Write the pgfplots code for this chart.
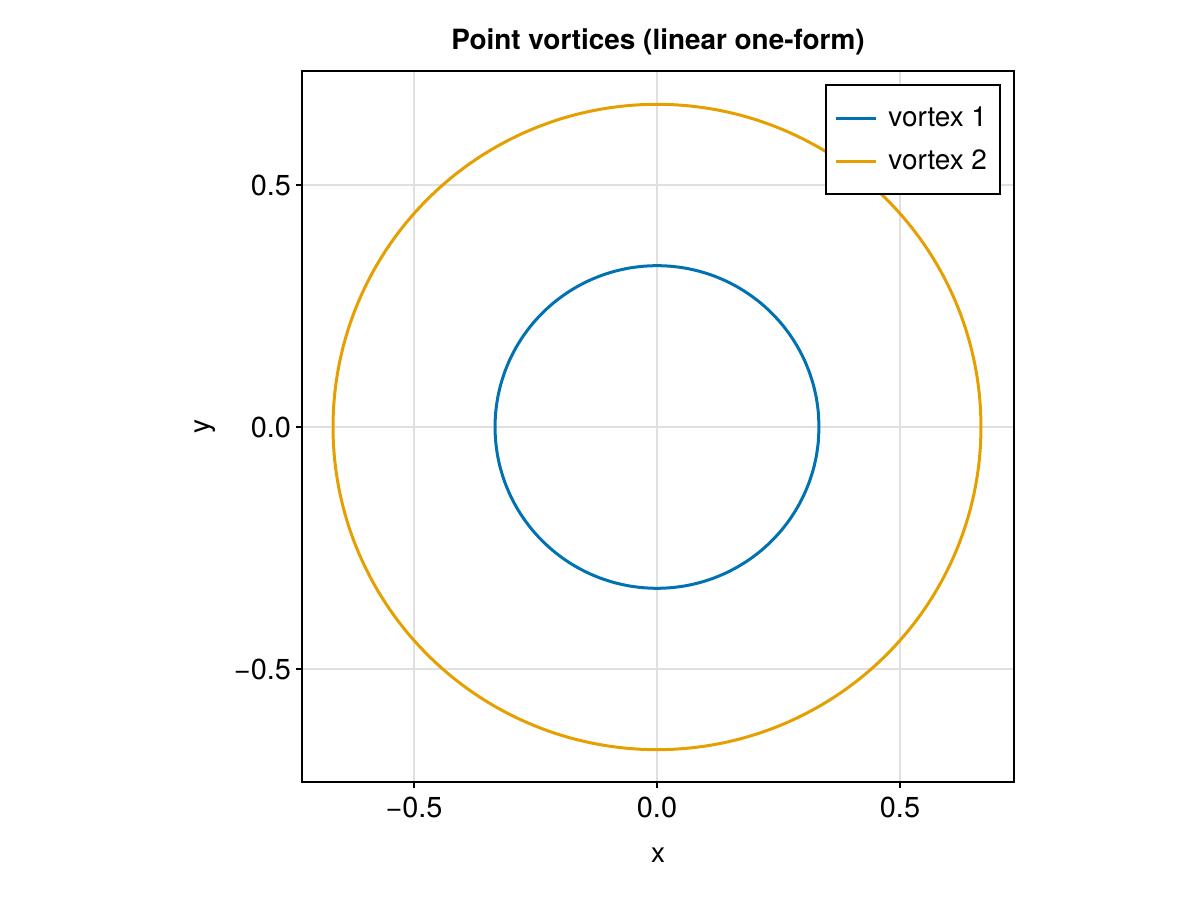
\documentclass[border=0pt]{standalone}
\usepackage{fontspec}
\setmainfont{TeX Gyre Heros}
\usepackage{pgfplots}
\pgfplotsset{compat=1.18}
\definecolor{mkblue}{RGB}{0,114,178}
\definecolor{mkorange}{RGB}{230,159,0}
\begin{document}
\begin{tikzpicture}
\useasboundingbox (-151bp,-59bp) rectangle (449bp,391bp);
\begin{axis}[
  at={(0,0)}, anchor=south west,
  scale only axis, width=356bp, height=355.5bp,
  xmin=-0.7305, xmax=0.7346, ymin=-0.7335, ymax=0.7355,
  xtick={-0.5,0,0.5}, ytick={-0.5,0,0.5},
  xticklabels={−0.5,0.0,0.5}, yticklabels={−0.5,0.0,0.5},
  tick align=outside, tick pos=left, major tick length=3bp,
  tick style={black, line width=1bp},
  axis line style={line width=1bp},
  grid=major, major grid style={line width=0.75bp, color=black!12},
  ticklabel style={font=\fontsize{14.5}{16}\selectfont},
  xticklabel style={yshift=-1bp},
  yticklabel style={xshift=1bp},
  xlabel={x}, ylabel={y},
  label style={font=\fontsize{14}{16}\selectfont},
  xlabel style={at={(axis description cs:0.5,0)}, anchor=center, yshift=-36.5bp},
  ylabel style={at={(axis description cs:-0.1362,0.5)}, anchor=center},
  title={\bfseries Point vortices (linear one-form)},
  title style={font=\fontsize{14}{16}\selectfont, at={(axis description cs:0.5,1)}, anchor=base, yshift=5bp},
  legend style={at={(1,1)}, anchor=north east, xshift=-6.5bp, yshift=-6.5bp, draw=black, line width=1bp,
    font=\fontsize{14}{16}\selectfont, row sep=6bp, inner xsep=4.5bp, inner ysep=9bp,
    /tikz/every odd column/.append style={column sep=3.5bp}},
  legend cell align=left,
  legend image code/.code={\draw[#1, line width=1.5bp] (0bp,0bp) -- (20bp,0bp);},
]
\addplot[mkblue, line width=1.5bp, smooth, data cs=polar] coordinates {
(0,0.3333) (5,0.3333) (10,0.3333) (15,0.3333) (20,0.3333) (25,0.3333) (30,0.3333) (35,0.3333) (40,0.3333) (45,0.3333)
(50,0.3333) (55,0.3333) (60,0.3333) (65,0.3333) (70,0.3333) (75,0.3333) (80,0.3333) (85,0.3333) (90,0.3333) (95,0.3333)
(100,0.3333) (105,0.3333) (110,0.3333) (115,0.3333) (120,0.3333) (125,0.3333) (130,0.3333) (135,0.3333) (140,0.3333) (145,0.3333)
(150,0.3333) (155,0.3333) (160,0.3333) (165,0.3333) (170,0.3333) (175,0.3333) (180,0.3333) (185,0.3333) (190,0.3333) (195,0.3333)
(200,0.3333) (205,0.3333) (210,0.3333) (215,0.3333) (220,0.3333) (225,0.3333) (230,0.3333) (235,0.3333) (240,0.3333) (245,0.3333)
(250,0.3333) (255,0.3333) (260,0.3333) (265,0.3333) (270,0.3333) (275,0.3333) (280,0.3333) (285,0.3333) (290,0.3333) (295,0.3333)
(300,0.3333) (305,0.3333) (310,0.3333) (315,0.3333) (320,0.3333) (325,0.3333) (330,0.3333) (335,0.3333) (340,0.3333) (345,0.3333)
(350,0.3333) (355,0.3333) (360,0.3333)
};
\addlegendentry{vortex 1}
\addplot[mkorange, line width=1.5bp, smooth, data cs=polar] coordinates {
(0,0.6667) (3,0.6667) (6,0.6667) (9,0.6667) (12,0.6667) (15,0.6667) (18,0.6667) (21,0.6667) (24,0.6667) (27,0.6667)
(30,0.6667) (33,0.6667) (36,0.6667) (39,0.6667) (42,0.6667) (45,0.6667) (48,0.6667) (51,0.6667) (54,0.6667) (57,0.6667)
(60,0.6667) (63,0.6667) (66,0.6667) (69,0.6667) (72,0.6667) (75,0.6667) (78,0.6667) (81,0.6667) (84,0.6667) (87,0.6667)
(90,0.6667) (93,0.6667) (96,0.6667) (99,0.6667) (102,0.6667) (105,0.6667) (108,0.6667) (111,0.6667) (114,0.6667) (117,0.6667)
(120,0.6667) (123,0.6667) (126,0.6667) (129,0.6667) (132,0.6667) (135,0.6667) (138,0.6667) (141,0.6667) (144,0.6667) (147,0.6667)
(150,0.6667) (153,0.6667) (156,0.6667) (159,0.6667) (162,0.6667) (165,0.6667) (168,0.6667) (171,0.6667) (174,0.6667) (177,0.6667)
(180,0.6667) (183,0.6667) (186,0.6667) (189,0.6667) (192,0.6667) (195,0.6667) (198,0.6667) (201,0.6667) (204,0.6667) (207,0.6667)
(210,0.6667) (213,0.6667) (216,0.6667) (219,0.6667) (222,0.6667) (225,0.6667) (228,0.6667) (231,0.6667) (234,0.6667) (237,0.6667)
(240,0.6667) (243,0.6667) (246,0.6667) (249,0.6667) (252,0.6667) (255,0.6667) (258,0.6667) (261,0.6667) (264,0.6667) (267,0.6667)
(270,0.6667) (273,0.6667) (276,0.6667) (279,0.6667) (282,0.6667) (285,0.6667) (288,0.6667) (291,0.6667) (294,0.6667) (297,0.6667)
(300,0.6667) (303,0.6667) (306,0.6667) (309,0.6667) (312,0.6667) (315,0.6667) (318,0.6667) (321,0.6667) (324,0.6667) (327,0.6667)
(330,0.6667) (333,0.6667) (336,0.6667) (339,0.6667) (342,0.6667) (345,0.6667) (348,0.6667) (351,0.6667) (354,0.6667) (357,0.6667)
(360,0.6667)
};
\addlegendentry{vortex 2}
\end{axis}
\end{tikzpicture}
\end{document}
